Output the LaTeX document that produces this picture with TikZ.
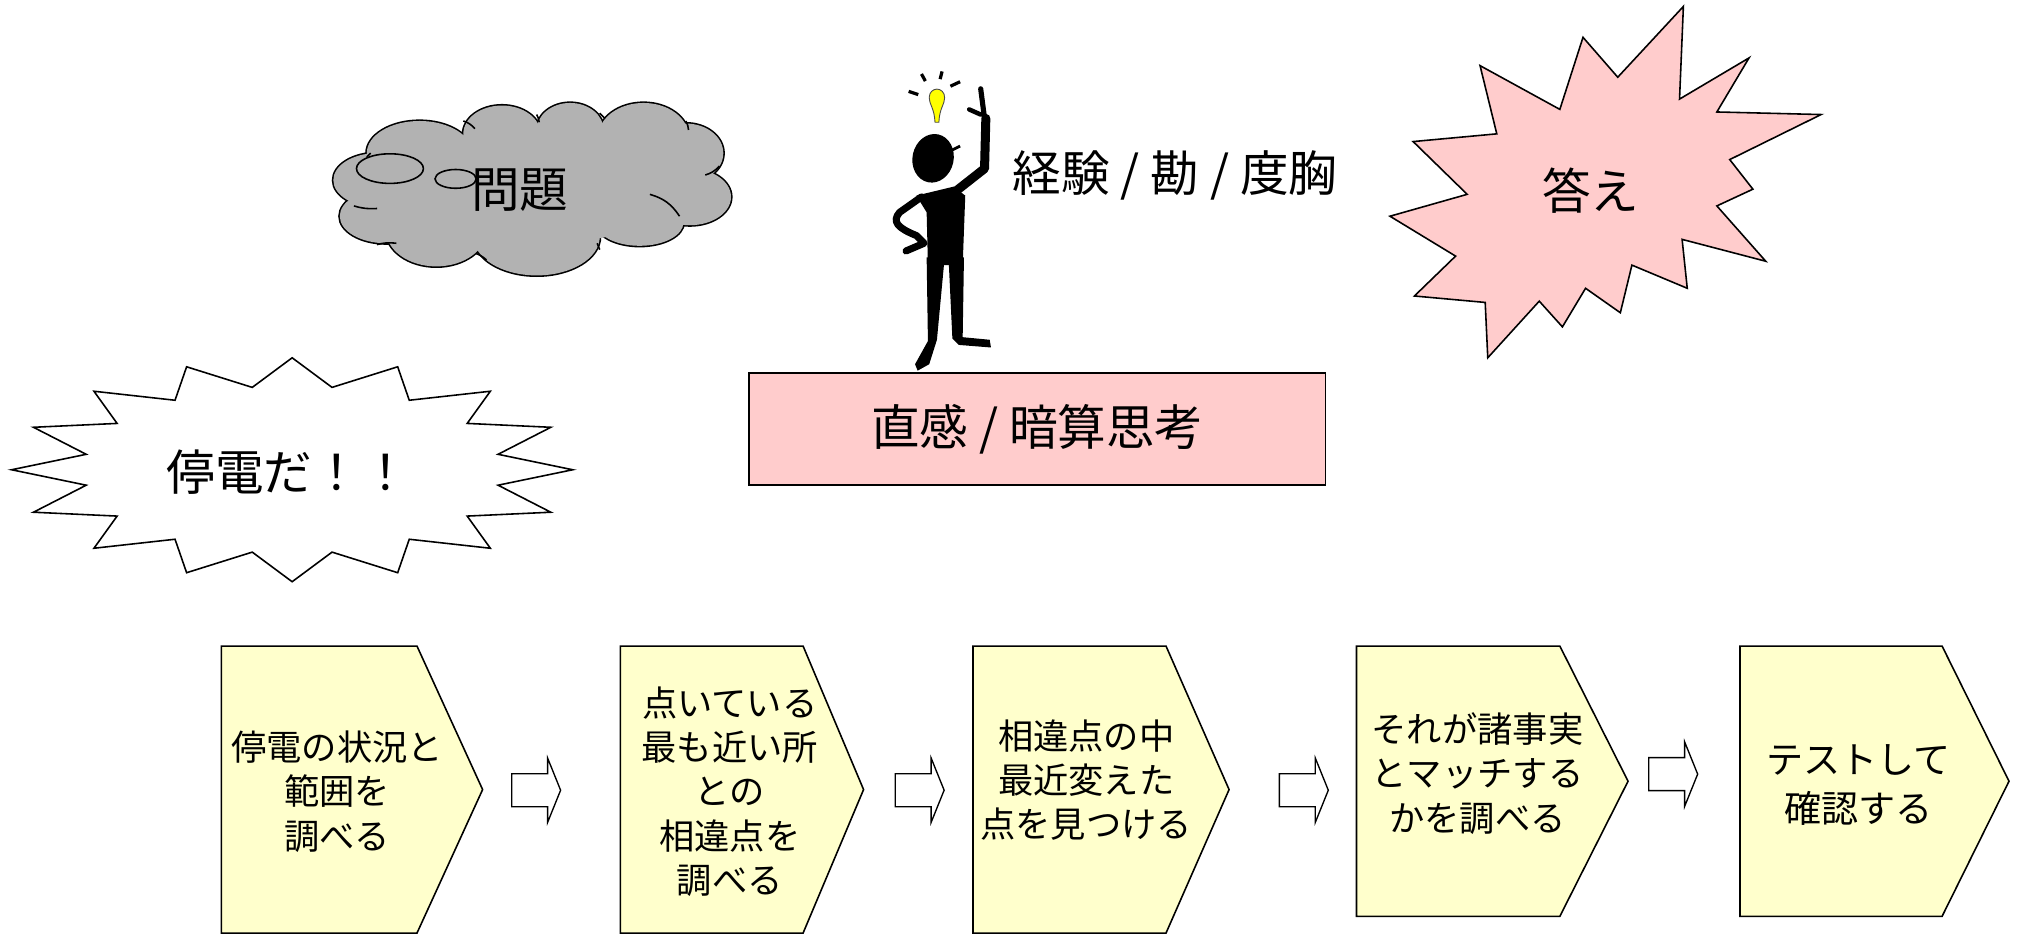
\documentclass[tikz,border=0pt]{standalone}
\usepackage{fontspec}
\setmainfont{Noto Sans CJK JP}
\usepackage{tikz}
\usetikzlibrary{shapes.arrows}
\definecolor{cloudgray}{HTML}{B2B2B2}
\definecolor{answerpink}{HTML}{FFCCCC}
\definecolor{steppaper}{HTML}{FFFFCC}
\definecolor{bulbyellow}{HTML}{FFFF00}

\begin{document}
\begin{tikzpicture}[x=0.2mm,y=-0.2mm,
		outline/.style={draw=black,line width=0.7pt},
		bigtext/.style={font=\fontsize{21.5}{25}\selectfont},
		steptext/.style={align=center,font=\fontsize{15.6}{19.6}\selectfont},
		chevron/.style={outline,fill=steppaper},
		nextarrow/.style={draw=black,line width=0.6pt,fill=white,shape=single arrow,minimum height=7.6mm,single arrow head extend=2.44mm,single arrow tip angle=136,inner sep=2.46mm}]
			\useasboundingbox (0,0) rectangle (1568,727);
			\foreach \cx/\cy/\rx/\ry in {293/140/34/21, 326/119/41/25, 390/104/30/22, 443/101/26/21, 500/106/35/26, 533/119/29/23, 536/153/32/22, 497/173/34/18, 417/184/49/30, 339/179/39/28, 300/168/36/21}
				\draw[line width=1.4pt] (\cx,\cy) ellipse [x radius=\rx, y radius=\ry];
			\foreach \cx/\cy/\rx/\ry in {293/140/34/21, 326/119/41/25, 390/104/30/22, 443/101/26/21, 500/106/35/26, 533/119/29/23, 536/153/32/22, 497/173/34/18, 417/184/49/30, 339/179/39/28, 300/168/36/21, 414/145/115/45}
				\fill[cloudgray] (\cx,\cy) ellipse [x radius=\rx, y radius=\ry];
			\draw[outline] (360,94) to[bend left=15] (369,100) (417,89) to[bend left=10] (419,95) (466,88) to[bend left=10] (470,92) (533,94) to[bend left=10] (535,101) (548,136) to[bend right=15] (559,129) (505,151) to[bend left=20] (528,168) (464,189) to[bend left=10] (466,194) (370,197) to[bend left=10] (378,202) (308,189) to[bend right=10] (293,190) (275,160) to[bend right=10] (293,162) (288,119) to[bend right=10] (285,122);
			\draw[outline] (303,131) ellipse [x radius=26, y radius=11.5];
			\draw[outline] (354,139) ellipse [x radius=16, y radius=7.3];
			\node[bigtext] (mondai) at (404,148) {問題};
			\begin{scope}[shift={(227,365)}]
				\filldraw[outline,fill=white] (0,-87) -- (31,-64) -- (82,-80) -- (91,-54) -- (154,-61) -- (136,-36) -- (201,-33) -- (160,-12) -- (218,0) -- (160,12) -- (201,33) -- (136,36) -- (154,61) -- (91,54) -- (82,80) -- (31,64) -- (0,87) -- (-31,64) -- (-82,80) -- (-91,54) -- (-154,61) -- (-136,36) -- (-201,33) -- (-160,12) -- (-218,0) -- (-160,-12) -- (-201,-33) -- (-136,-36) -- (-154,-61) -- (-91,-54) -- (-82,-80) -- (-31,-64) -- cycle;
			\end{scope}
			\node[bigtext] (teiden) at (224,367) {停電だ！！};
			\filldraw[outline,fill=answerpink] (1308,5) -- (1305,77) -- (1359,45) -- (1334,87) -- (1415,89) -- (1344,124) -- (1362,147) -- (1334,160) -- (1372,203) -- (1307,186) -- (1311,224) -- (1268,206) -- (1259,243) -- (1232,224) -- (1214,254) -- (1196,234) -- (1156,278) -- (1154,235) -- (1099,230) -- (1131,199) -- (1080,168) -- (1140,151) -- (1098,110) -- (1163,104) -- (1150,51) -- (1212,85) -- (1230,29) -- (1257,60) -- cycle;
			\node[bigtext] (kotae) at (1236,148) {答え};
			\filldraw[fill=bulbyellow,draw=black!70,line width=0.4pt] (722,76) .. controls (722,67) and (734,67) .. (734,76) .. controls (734,81) and (730,84) .. (729.5,95) -- (726.5,95) .. controls (726,84) and (722,81) .. (722,76) -- cycle;
			\draw[line width=0.5mm] (706,71) -- (713.5,73.5) (716,57.5) -- (719,63) (732,55.5) -- (730.5,61.5) (746,63.5) -- (738.5,67);
			\fill[rotate around={-12:(725,123)}] (725,123) ellipse [x radius=16, y radius=19];
			\draw[line width=0.45mm] (737,118) -- (746,113.5);
			\draw[line width=1.4mm,line join=round,line cap=round] (737,153) -- (765,131) -- (766,92);
			\draw[line width=0.8mm,line cap=round] (765,92) -- (762,69);
			\draw[line width=0.7mm,line cap=round] (753,85) -- (762,89);
			\fill (712,152) -- (741,145) -- (750,152) -- (748,206) -- (721,206) -- (720,165) -- cycle;
			\draw[line width=1.1mm,line join=round,line cap=round] (716,153) -- (699,165) .. controls (693,172) and (697,177) .. (712,183) -- (718,189) -- (704,195);
			\fill (720,200) -- (734,200) -- (728,264) -- (722,283) -- (713,288) -- (711,283) -- (721,265) -- cycle;
			\fill (737,200) -- (749,200) -- (748,262) -- (769,264) -- (770,270) -- (745,268) -- (740,263) -- cycle;
			\node[bigtext] (keiken) at (913,136) {経験 / 勘 / 度胸};
			\node[outline,fill=answerpink,minimum width=89.6mm,minimum height=17.4mm,bigtext] (chokkan) at (806,333.5) {直感 / 暗算思考};
			\foreach \l/\r/\t/\b in {172/324/375/725, 482/624/671/725, 756/906/955/725, 1054/1212/1265/712, 1352/1509/1561/712}
				\filldraw[chevron] (\l,502) -- (\r,502) -- (\t,{(502+\b)/2}) -- (\r,\b) -- (\l,\b) -- cycle;
			\node[steptext] (s1) at (262,615) {停電の状況と\\範囲を\\調べる};
			\node[steptext] (s2) at (567,615) {点いている\\最も近い所\\との\\相違点を\\調べる};
			\node[steptext] (s3) at (844,606) {相違点の中\\最近変えた\\点を見つける};
			\node[steptext] (s4) at (1148,601) {それが諸事実\\とマッチする\\かを調べる};
			\node[steptext,font=\fontsize{16.4}{21.5}\selectfont] (s5) at (1444,610) {テストして\\確認する};
			\node[nextarrow] (a1) at (414,614) {};
			\node[nextarrow] (a2) at (712,614) {};
			\node[nextarrow] (a3) at (1010.5,614) {};
			\node[nextarrow] (a4) at (1297.5,601.5) {};
		\end{tikzpicture}
\end{document}
